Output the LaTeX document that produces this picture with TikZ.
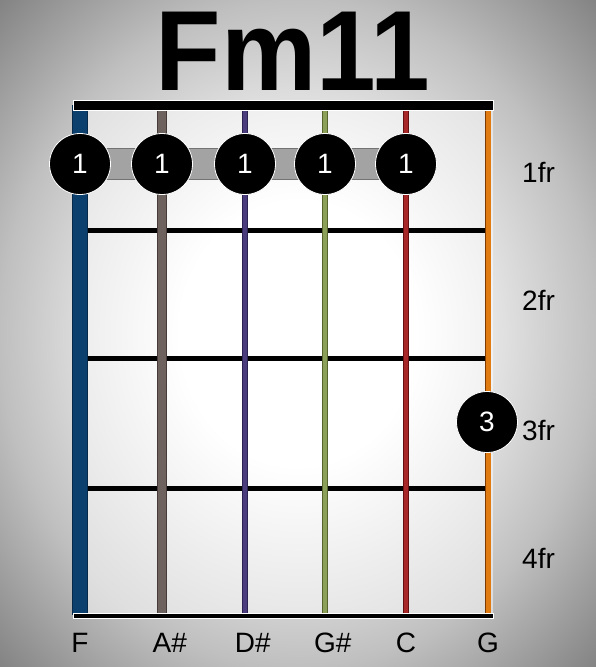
\documentclass[tikz,border=0pt]{standalone}
\usepackage{fontspec}
\setmainfont{Liberation Sans}
\usetikzlibrary{positioning}
\pgfdeclareradialshading{vignette}{\pgfpoint{0bp}{0bp}}{color(0bp)=(white); color(10bp)=(white); color(25bp)=(black!25); color(36bp)=(black!50); color(50bp)=(black!50)}
\definecolor{strF}{HTML}{0B3F6E}
\definecolor{strFo}{HTML}{082A4A}
\definecolor{strAs}{HTML}{6E625E}
\definecolor{strAso}{HTML}{463B38}
\definecolor{strDs}{HTML}{4B3C7E}
\definecolor{strDso}{HTML}{2C2352}
\definecolor{strGs}{HTML}{8DA05A}
\definecolor{strGso}{HTML}{56652E}
\definecolor{strC}{HTML}{A8282A}
\definecolor{strCo}{HTML}{651010}
\definecolor{strG}{HTML}{E07B12}
\definecolor{strGo}{HTML}{7A3A00}
\tikzset{
  finger/.style  = {circle, fill=black, draw=white, line width=0.8pt,
                    minimum size=61pt, inner sep=0pt, text=white,
                    font=\fontsize{28}{30}\selectfont},
  fretlbl/.style = {anchor=base west, inner sep=0pt, font=\fontsize{28}{30}\selectfont},
  strlbl/.style  = {anchor=base, inner sep=0pt, font=\fontsize{28}{30}\selectfont},
  fret/.style    = {line width=5pt, black},
  barre/.style   = {fill=black!36, draw=black!55, line width=0.8pt},
  bar/.style     = {fill=black, draw=white, line width=0.6pt}
}

\begin{document}
\begin{tikzpicture}[x=1pt, y=-1pt]
  \shade[shading=vignette] (0,0) rectangle (596,667);
  \useasboundingbox (0,0) rectangle (596,667);
  \fill[white, opacity=0.5] (73,105) rectangle (493,615);

  \node[anchor=base, xscale=0.94, font=\fontsize{114}{120}\selectfont\bfseries] (title) at (293,90) {Fm11};

  % frets
  \foreach \y in {230,358,488}
    \draw[fret] (88,\y) -- (488,\y);

  % strings
  \foreach \i/\x/\w/\c in {1/80/14/strF, 2/162/8/strAs, 3/245/4/strDs,
                          4/325/3.5/strGs, 5/406/4/strC, 6/488/5/strG} {
    \coordinate (s\i) at (\x,105);
    \coordinate (s\i b) at (\x,615);
    \draw[line width=\w pt+1.6pt, \c o] (s\i) -- (s\i b);
    \draw[line width=\w pt, \c] (s\i) -- (s\i b);
  }

  % nut and end
  \draw[bar] (73,100) rectangle (493,110);
  \draw[bar] (73,613) rectangle (493,618);

  % barre
  \foreach \i/\x in {1/80, 2/162, 3/245, 4/325, 5/406}
    \coordinate (f\i) at (\x,164);
  \draw[barre] ([yshift=15.5pt]f1) rectangle ([yshift=-15.5pt]f5);

  \node[finger] (d1) at (f1) {1};
  \node[finger] (d2) at (f2) {1};
  \node[finger] (d3) at (f3) {1};
  \node[finger] (d4) at (f4) {1};
  \node[finger] (d5) at (f5) {1};
  \node[finger] (d6) at (487,422) {3};

  \node[fretlbl] (fr1) at (522,182) {1fr};
  \node[fretlbl] (fr2) at (522,310) {2fr};
  \node[fretlbl] (fr3) at (522,440) {3fr};
  \node[fretlbl] (fr4) at (522,568) {4fr};

  \node[strlbl] (nF)  at (80,652)  {F};
  \node[strlbl] (nAs) at (162,652) {A\rlap{\#}};
  \node[strlbl] (nDs) at (245,652) {D\rlap{\#}};
  \node[strlbl] (nGs) at (325,652) {G\rlap{\#}};
  \node[strlbl] (nC)  at (406,652) {C};
  \node[strlbl] (nG)  at (488,652) {G};
\end{tikzpicture}
\end{document}
